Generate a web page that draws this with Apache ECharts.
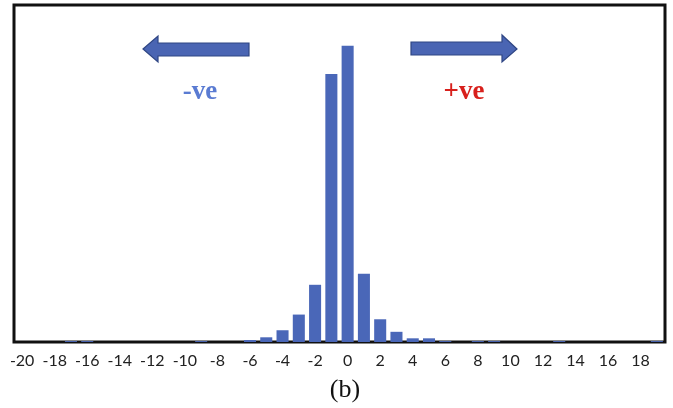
<!DOCTYPE html>
<html>
<head>
<meta charset="utf-8">
<script src="https://cdn.jsdelivr.net/npm/echarts@6/dist/echarts.min.js"></script>
<style>
  html, body { margin: 0; padding: 0; background: #fff; }
  #chart { width: 673px; height: 408px; }
</style>
</head>
<body>
<div id="chart"></div>
<script>
  // categories -20 .. 19
  const categories = [-20, -19, -18, -17, -16, -15, -14, -13, -12, -11, -10, -9, -8, -7, -6, -5, -4, -3, -2, -1,
                      0, 1, 2, 3, 4, 5, 6, 7, 8, 9, 10, 11, 12, 13, 14, 15, 16, 17, 18, 19];
  // relative frequency (%)
  const values = [0, 0, 0, 0.12, 0.12, 0, 0, 0, 0, 0, 0, 0.12, 0, 0, 0.25, 0.6, 1.5, 3.5, 7.3, 34.2,
                  37.8, 8.7, 2.9, 1.3, 0.47, 0.47, 0.12, 0, 0.12, 0.12, 0, 0, 0, 0.12, 0, 0, 0, 0, 0, 0.12];
  const yMax = 43;
  const barColor = '#4a67b8';

  const chart = echarts.init(document.getElementById('chart'));
  chart.setOption({
    animation: false,
    grid: {
      left: 14, right: 8, top: 5, bottom: 66,
      show: true, borderColor: '#111', borderWidth: 3, backgroundColor: '#fff'
    },
    xAxis: {
      type: 'category',
      data: categories,
      axisLine: { show: false },
      axisTick: { show: false },
      axisLabel: {
        interval: 1,
        margin: 11,
        fontSize: 16,
        fontFamily: 'Lato',
        color: '#222'
      }
    },
    yAxis: {
      type: 'value',
      min: 0,
      max: yMax,
      show: false,
      splitLine: { show: false }
    },
    series: [{
      type: 'bar',
      data: values,
      barCategoryGap: '26%',
      itemStyle: { color: barColor }
    }],
    graphic: [
      { // left arrow
        type: 'polygon',
        shape: { points: [[143, 49], [158, 36], [158, 43], [249, 43], [249, 56], [158, 56], [158, 62]] },
        style: { fill: '#4a65b3', stroke: '#2f4684', lineWidth: 1.2 }
      },
      { // right arrow
        type: 'polygon',
        shape: { points: [[411, 42], [502, 42], [502, 35], [517, 49], [502, 62], [502, 55], [411, 55]] },
        style: { fill: '#4a65b3', stroke: '#2f4684', lineWidth: 1.2 }
      },
      {
        type: 'text',
        position: [200, 92],
        style: { text: '-ve', fill: '#5a7bd2', font: 'bold 27px "Liberation Serif"', align: 'center', verticalAlign: 'middle' }
      },
      {
        type: 'text',
        position: [464, 92],
        style: { text: '+ve', fill: '#d8201c', font: 'bold 27px "Liberation Serif"', align: 'center', verticalAlign: 'middle' }
      },
      {
        type: 'text',
        position: [345, 390],
        style: { text: '(b)', fill: '#111', font: '26px "Liberation Serif"', align: 'center', verticalAlign: 'middle' }
      }
    ]
  });
</script>
</body>
</html>
